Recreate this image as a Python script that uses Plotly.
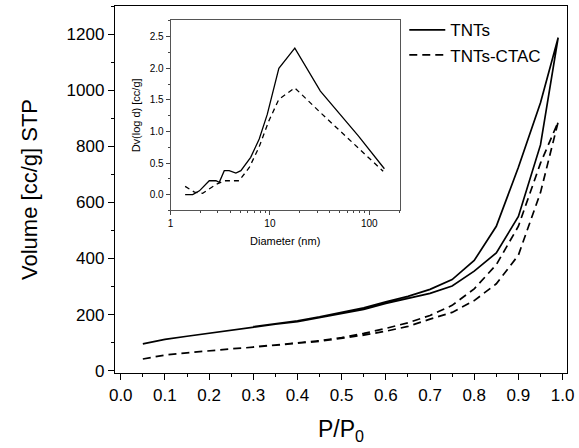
import plotly.graph_objects as go

# ---- main isotherm data ----
p_ads = [0.05, 0.10, 0.15, 0.20, 0.25, 0.30, 0.35, 0.40, 0.45, 0.50, 0.55, 0.60,
         0.65, 0.70, 0.75, 0.80, 0.85, 0.90, 0.95, 0.99]
tnts_ads = [96, 112, 123, 134, 145, 156, 166, 175, 189, 203, 219, 240,
            259, 276, 302, 355, 420, 550, 805, 1187]
p_des = [0.99, 0.95, 0.90, 0.85, 0.80, 0.75, 0.70, 0.65, 0.60, 0.55, 0.50,
         0.45, 0.40, 0.35, 0.30]
tnts_des = [1187, 955, 725, 515, 393, 325, 290, 265, 246, 224, 207,
            192, 178, 168, 157]
ctac_ads = [42, 56, 64, 72, 78, 84, 90, 98, 105, 115, 127, 141,
            158, 184, 208, 250, 310, 412, 635, 887]
ctac_des = [887, 740, 515, 378, 292, 233, 197, 171, 151, 133, 118,
            107, 99, 92, 85]

# ---- inset pore size distribution ----
d_tnts = [1.40, 1.67, 1.95, 2.45, 2.86, 3.09, 3.47, 3.89, 4.54, 5.1, 6.4, 7.8,
          9.4, 12.3, 17.8, 32.2, 77.6, 142]
dv_tnts = [0.0, 0.0, 0.06, 0.22, 0.22, 0.195, 0.38, 0.38, 0.34, 0.38, 0.59, 0.88,
           1.27, 2.0, 2.32, 1.64, 0.93, 0.41]
d_ctac = [1.40, 1.74, 2.1, 2.86, 3.47, 4.9, 6.2, 7.76, 9.77, 12.3, 17.8, 32.2, 138]
dv_ctac = [0.13, 0.04, 0.02, 0.16, 0.22, 0.22, 0.43, 0.75, 1.17, 1.51, 1.69, 1.30, 0.37]

FONT = "Arial, Liberation Sans, sans-serif"

fig = go.Figure()
fig.add_trace(go.Scatter(x=p_ads + p_des, y=tnts_ads + tnts_des, mode="lines",
                         name="TNTs", line=dict(color="black", width=1.7)))
fig.add_trace(go.Scatter(x=p_ads + p_des, y=ctac_ads + ctac_des, mode="lines",
                         name="TNTs-CTAC",
                         line=dict(color="black", width=1.7, dash="8px,5px")))
fig.add_trace(go.Scatter(x=d_tnts, y=dv_tnts, mode="lines", showlegend=False,
                         xaxis="x2", yaxis="y2",
                         line=dict(color="black", width=1.3)))
fig.add_trace(go.Scatter(x=d_ctac, y=dv_ctac, mode="lines", showlegend=False,
                         xaxis="x2", yaxis="y2",
                         line=dict(color="black", width=1.3, dash="5px,4px")))

fig.update_layout(
    width=579, height=448,
    margin=dict(l=115, r=9, t=5, b=75),
    plot_bgcolor="white", paper_bgcolor="white",
    font=dict(family=FONT, color="black"),
    showlegend=True,
    legend=dict(x=0.64, y=0.983, xanchor="left", yanchor="top",
                bgcolor="rgba(0,0,0,0)", font=dict(size=17, family=FONT),
                tracegroupgap=0, itemwidth=36),
    xaxis=dict(range=[-0.013, 1.01], tickvals=[i / 10 for i in range(11)],
               tickformat=".1f", ticks="outside", ticklen=6, tickwidth=1,
               tickcolor="black", showline=True, linecolor="black", linewidth=1.3,
               mirror=True, showgrid=False, zeroline=False,
               tickfont=dict(size=17, family=FONT),
               minor=dict(ticks="outside", ticklen=3, dtick=0.05, tickcolor="black", showgrid=False),
               title=dict(text="P/P<sub>0</sub>", font=dict(size=23, family=FONT), standoff=17),
               domain=[0, 1]),
    yaxis=dict(range=[-8, 1300], dtick=200, tick0=0, ticks="outside", ticklen=6,
               tickwidth=1, tickcolor="black", showline=True, linecolor="black",
               linewidth=1.3, mirror=True, showgrid=False, zeroline=False,
               tickfont=dict(size=17, family=FONT),
               minor=dict(ticks="outside", ticklen=3, dtick=100, tickcolor="black", showgrid=False),
               title=dict(text="Volume [cc/g] STP", font=dict(size=22, family=FONT), standoff=22),
               domain=[0, 1]),
    xaxis2=dict(type="log", range=[0, 2.307], tickvals=[1, 10, 100],
                ticktext=["1", "10", "100"], ticks="outside", ticklen=4,
                tickcolor="#444", showline=True, linecolor="#555", linewidth=1,
                mirror=True, showgrid=False, zeroline=False,
                tickfont=dict(size=10, family=FONT),
                minor=dict(ticks="outside", ticklen=2, tickcolor="#444", dtick="D1", showgrid=False),
                title=dict(text="Diameter (nm)", font=dict(size=11, family=FONT), standoff=8),
                domain=[0.123, 0.630], anchor="y2"),
    yaxis2=dict(range=[-0.25, 2.76], dtick=0.5, tick0=0, tickformat=".1f",
                ticks="outside", ticklen=4, tickcolor="#444", showline=True,
                linecolor="#555", linewidth=1, mirror=True, showgrid=False,
                zeroline=False, tickfont=dict(size=10, family=FONT),
                minor=dict(ticks="outside", ticklen=2, dtick=0.25, tickcolor="#444", showgrid=False),
                title=dict(text="Dv(log d) [cc/g]", font=dict(size=11, family=FONT), standoff=6),
                domain=[0.443, 0.961], anchor="x2"),
)

fig.write_html("out.html")
